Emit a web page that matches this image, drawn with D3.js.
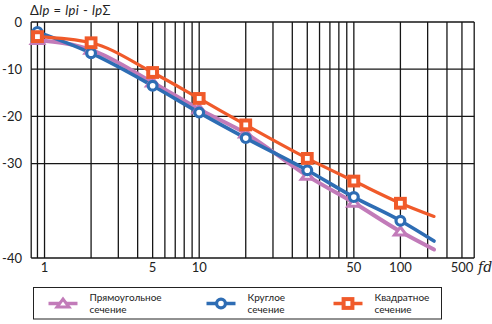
<!DOCTYPE html>
<html>
<head>
<meta charset="utf-8">
<script src="https://cdn.jsdelivr.net/npm/d3@7/dist/d3.min.js"></script>
<style>
  html, body { margin: 0; padding: 0; background: #fff; }
  svg { display: block; }
  text { font-family: Lato, "DejaVu Sans", sans-serif; fill: #222; }
</style>
</head>
<body>
<svg id="chart" width="492" height="324"></svg>
<script>
// Relative frequency fd and level drop ΔLp (dB) for three duct sections
const fd = [0.9, 2, 5, 10, 20, 50, 100, 200, 330];
const rectangular = [-3.8, -5.9, -12.8, -18.5, -23.6, -32.6, -38.3, -44.4, -48.2];
const circular    = [-2.1, -6.6, -13.5, -19.2, -24.6, -31.4, -37.1, -42.1, -46.4];
const square      = [-3.1, -4.4, -10.7, -16.2, -21.8, -28.9, -33.7, -38.4, -41.2];

// Grid and tick labels
const xGrid = [0.9, 1, 2, 3, 4, 5, 6, 7, 8, 9, 10, 20, 30, 40, 50, 60, 70, 80, 90,
               100, 200, 300, 400, 500, 600];
const xTickAt   = [1, 5, 10, 100, 200, 500];
const xTickText = ["1", "5", "10", "50", "100", "500"];
const yGrid = [0, -10, -20, -30, -50];
const yTickAt   = [0, -10, -20, -30, -50];
const yTickText = ["0", "-10", "-20", "-30", "-40"];

const seriesNames = [["Прямоугольное", "сечение"], ["Круглое", "сечение"], ["Квадратное", "сечение"]];
const colors = ["#c27bb9", "#2e6db4", "#f05a2a"];
const shapes = ["triangle", "circle", "square"];
const seriesData = [rectangular, circular, square];

const svg = d3.select("#chart");
const x = d3.scaleLog().domain([0.82, 600]).range([31.2, 474.2]);
const y = d3.scaleLinear().domain([0, -50]).range([22, 258]);

// Grid
const grid = svg.append("g").attr("stroke", "#161616").attr("stroke-width", 1.3);
grid.selectAll("line.v").data(xGrid).join("line")
  .attr("x1", d => x(d)).attr("x2", d => x(d))
  .attr("y1", y(0)).attr("y2", y(-50));
grid.selectAll("line.h").data(yGrid).join("line")
  .attr("x1", x.range()[0]).attr("x2", x.range()[1])
  .attr("y1", d => y(d)).attr("y2", d => y(d));
grid.append("line")
  .attr("x1", x.range()[0]).attr("x2", x.range()[0])
  .attr("y1", y(0)).attr("y2", y(-50));

// Axis labels
svg.append("g").selectAll("text").data(yTickAt).join("text")
  .attr("x", 22).attr("y", d => y(d))
  .attr("dy", "0.36em").attr("text-anchor", "end")
  .attr("font-size", 13)
  .text((d, i) => yTickText[i]);
svg.append("g").selectAll("text").data(xTickAt).join("text")
  .attr("x", d => x(d)).attr("y", 272)
  .attr("text-anchor", "middle").attr("font-size", 13)
  .text((d, i) => xTickText[i]);
svg.append("text").attr("x", 478).attr("y", 272)
  .attr("font-size", 14).attr("font-style", "italic")
  .style("font-family", "'DejaVu Serif', serif")
  .text("fd");

const title = svg.append("text").attr("x", 30).attr("y", 15)
  .attr("font-size", 13).attr("letter-spacing", 0.4);
title.append("tspan").text("Δ");
title.append("tspan").attr("font-style", "italic").text("lp");
title.append("tspan").text(" = ");
title.append("tspan").attr("font-style", "italic").text("lpi");
title.append("tspan").text(" - ");
title.append("tspan").attr("font-style", "italic").text("lp");
title.append("tspan").text("Σ");

// Markers
function drawMarker(g, shape, color, cx, cy) {
  if (shape === "circle") {
    g.append("circle").attr("cx", cx).attr("cy", cy).attr("r", 4.4)
      .attr("fill", "#fff").attr("stroke", color).attr("stroke-width", 3.2);
  } else if (shape === "square") {
    g.append("rect").attr("x", cx - 4.4).attr("y", cy - 4.4)
      .attr("width", 8.8).attr("height", 8.8)
      .attr("fill", "#fff").attr("stroke", color).attr("stroke-width", 4);
  } else {
    g.append("path")
      .attr("d", `M${cx - 6},${cy + 3.5}L${cx + 6},${cy + 3.5}L${cx},${cy - 4.5}Z`)
      .attr("fill", "#fff").attr("stroke", color).attr("stroke-width", 3)
      .attr("stroke-linejoin", "miter");
  }
}

const line = d3.line()
  .x(d => x(d[0])).y(d => y(d[1]))
  .curve(d3.curveMonotoneX);

const lineWidths = [4, 3.6, 3.2];
seriesData.forEach((vals, s) => {
  svg.append("path")
    .datum(fd.map((f, i) => [f, vals[i]]))
    .attr("d", line)
    .attr("fill", "none")
    .attr("stroke", colors[s])
    .attr("stroke-width", lineWidths[s])
    .attr("stroke-linecap", "round");
});
seriesData.forEach((vals, s) => {
  const g = svg.append("g");
  // the last point only ends the line, without a marker
  fd.slice(0, fd.length - 1).forEach((f, i) => drawMarker(g, shapes[s], colors[s], x(f), y(vals[i])));
});

// Legend
svg.append("rect").attr("x", 33.5).attr("y", 287.5).attr("width", 408).attr("height", 31.5)
  .attr("fill", "none").attr("stroke", "#222").attr("stroke-width", 1);
const legendX = [48.5, 206.5, 333.5];
legendX.forEach((lx, s) => {
  const g = svg.append("g");
  g.append("line").attr("x1", lx).attr("x2", lx + 29).attr("y1", 303.5).attr("y2", 303.5)
    .attr("stroke", colors[s]).attr("stroke-width", 3.5);
  drawMarker(g, shapes[s], colors[s], lx + 14.5, 303.5);
  const t = g.append("text").attr("x", lx + 41).attr("y", 301).attr("font-size", 10);
  t.append("tspan").attr("x", lx + 41).text(seriesNames[s][0]);
  t.append("tspan").attr("x", lx + 41).attr("dy", 11.5).text(seriesNames[s][1]);
});
</script>
</body>
</html>
